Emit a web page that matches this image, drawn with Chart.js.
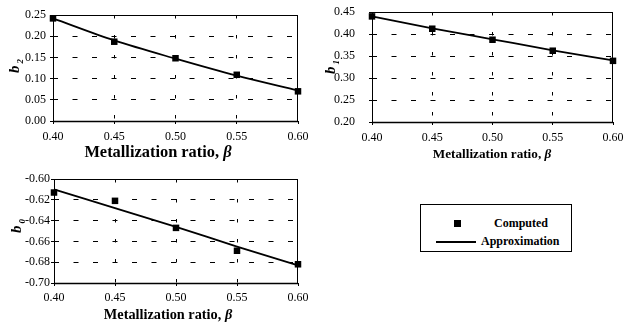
<!DOCTYPE html>
<html>
<head>
<meta charset="utf-8">
<script src="https://cdn.jsdelivr.net/npm/chart.js@4.4.1/dist/chart.umd.min.js"></script>
<style>
  body { margin: 0; background: #fff; }
  #wrap { position: relative; width: 631px; height: 326px; overflow: hidden; }
  canvas { position: absolute; }
  #legend {
    position: absolute; left: 420px; top: 204px; width: 152px; height: 48px;
    border: 1px solid #000; box-sizing: border-box;
    font: bold 12px "Liberation Serif", serif; color: #000;
  }
  #legend .sq { position: absolute; left: 33px; top: 15px; width: 7px; height: 7px; background: #000; }
  #legend .ln { position: absolute; left: 15px; top: 36px; width: 40px; height: 1.5px; background: #000; }
  #legend .t1 { position: absolute; left: 73px; top: 11px; }
  #legend .t2 { position: absolute; left: 60px; top: 29px; }
</style>
</head>
<body>
<div id="wrap">
  <canvas id="c_b2" width="320" height="170" style="left:0;top:0;width:320px;height:170px"></canvas>
  <canvas id="c_b1" width="311" height="170" style="left:320px;top:0;width:311px;height:170px"></canvas>
  <canvas id="c_b0" width="320" height="161" style="left:0;top:165px;width:320px;height:161px"></canvas>
  <div id="legend">
    <div class="sq"></div><span class="t1">Computed</span>
    <div class="ln"></div><span class="t2">Approximation</span>
  </div>
</div>
<script>
const beta = [0.40, 0.45, 0.50, 0.55, 0.60];

const b2Computed = [0.242, 0.187, 0.148, 0.109, 0.070];
const b2Approx   = [0.242, 0.190, 0.147, 0.107, 0.072];

const b1Computed = [0.440, 0.412, 0.387, 0.362, 0.339];
const b1Approx   = [0.440, 0.413, 0.388, 0.363, 0.340];

const b0Computed = [-0.613, -0.621, -0.647, -0.669, -0.682];
const b0Approx   = [-0.610, -0.628, -0.646, -0.665, -0.683];

const serif = '"Liberation Serif", "Times New Roman", serif';

function pts(ys) {
  return beta.map((x, i) => ({ x: x, y: ys[i] }));
}

// black frame round the plot area, y label with subscript, x title with italic beta
const frame = {
  id: 'frame',
  afterDraw(chart, args, opts) {
    const a = chart.chartArea, ctx = chart.ctx;
    ctx.save();
    ctx.strokeStyle = '#000';
    ctx.lineWidth = 1;
    ctx.strokeRect(a.left + 0.5, a.top + 0.5, a.right - a.left - 1, a.bottom - a.top);
    ctx.lineWidth = 1.5;
    ctx.beginPath();
    ctx.moveTo(a.left, a.bottom + 0.5);
    ctx.lineTo(a.right, a.bottom + 0.5);
    ctx.stroke();
    ctx.fillStyle = '#000';

    // x title
    ctx.textBaseline = 'middle';
    ctx.font = 'bold ' + opts.titleSize + 'px ' + serif;
    const t1 = 'Metallization ratio, ';
    const w1 = ctx.measureText(t1).width;
    ctx.font = 'italic bold ' + opts.titleSize + 'px ' + serif;
    const w2 = ctx.measureText('\u03b2').width;
    let x0 = opts.titleX - (w1 + w2) / 2;
    ctx.font = 'bold ' + opts.titleSize + 'px ' + serif;
    ctx.fillText(t1, x0, opts.titleY);
    ctx.font = 'italic bold ' + opts.titleSize + 'px ' + serif;
    ctx.fillText('\u03b2', x0 + w1, opts.titleY);

    // y label
    ctx.translate(opts.labelX, opts.labelY);
    ctx.rotate(-Math.PI / 2);
    ctx.textBaseline = 'alphabetic';
    ctx.font = 'italic bold 15px ' + serif;
    ctx.fillText('b', 0, 0);
    const w = ctx.measureText('b').width;
    ctx.font = 'italic bold 9px ' + serif;
    ctx.fillText(opts.sub, w + 2, 4);
    ctx.restore();
  }
};

function makeChart(id, comp, approx, yMin, yMax, step, o) {
  const edgeHidden = (ctx) => {
    const v = ctx.tick ? ctx.tick.value : null;
    return (Math.abs(v - yMin) < 1e-9 || Math.abs(v - yMax) < 1e-9) ? 'rgba(0,0,0,0)' : '#000';
  };
  const xEdgeHidden = (ctx) => {
    const v = ctx.tick ? ctx.tick.value : null;
    return (Math.abs(v - 0.4) < 1e-9 || Math.abs(v - 0.6) < 1e-9) ? 'rgba(0,0,0,0)' : '#000';
  };
  return new Chart(document.getElementById(id), {
    type: 'scatter',
    data: {
      datasets: [{
        label: 'Computed',
        data: pts(comp),
        showLine: false,
        clip: false,
        pointStyle: 'rect',
        pointRadius: 4.6,
        pointHoverRadius: 4.6,
        backgroundColor: '#000',
        borderColor: '#000',
        borderWidth: 0
      }, {
        label: 'Approximation',
        data: pts(approx),
        showLine: true,
        clip: false,
        pointRadius: 0,
        borderColor: '#000',
        borderWidth: 1.8,
        tension: 0.4,
        cubicInterpolationMode: 'monotone'
      }]
    },
    options: {
      responsive: false,
      animation: false,
      events: [],
      layout: { padding: { left: 0, top: o.top, right: o.right, bottom: 0 } },
      plugins: {
        legend: { display: false },
        tooltip: { enabled: false },
        frame: o
      },
      scales: {
        x: {
          type: 'linear',
          min: 0.4, max: 0.6,
          afterFit: (s) => { s.height = o.xH; },
          ticks: {
            stepSize: 0.05,
            padding: o.xPad,
            color: '#000',
            font: { family: serif, size: 12 },
            callback: (v) => v.toFixed(2)
          },
          grid: { color: xEdgeHidden, tickColor: '#000', drawTicks: true, tickLength: 3, lineWidth: 1 },
          border: { display: false, dash: [3.5, 16.5] },
          title: { display: false }
        },
        y: {
          min: yMin, max: yMax,
          afterFit: (s) => { s.width = o.yW; s.paddingTop = 8; s.paddingBottom = 8; },
          ticks: {
            stepSize: step,
            padding: o.yPad,
            color: '#000',
            font: { family: serif, size: 12 },
            callback: (v) => v.toFixed(2)
          },
          grid: { color: edgeHidden, tickColor: '#000', drawTicks: true, tickLength: 3, lineWidth: 1 },
          border: { display: false, dash: [5, 14.5] }
        }
      }
    },
    plugins: [frame]
  });
}

makeChart('c_b2', b2Computed, b2Approx, 0, 0.25, 0.05,
  { top: 15, right: 22, xH: 49, yW: 53, yPad: 4, xPad: 6,
    titleSize: 16.4, titleX: 158, titleY: 153, labelX: 19, labelY: 73, sub: '2' });
makeChart('c_b1', b1Computed, b1Approx, 0.2, 0.45, 0.05,
  { top: 12, right: 18, xH: 48, yW: 52, yPad: 14, xPad: 6,
    titleSize: 13.2, titleX: 172, titleY: 155, labelX: 15, labelY: 74, sub: '1' });
makeChart('c_b0', b0Computed, b0Approx, -0.7, -0.6, 0.02,
  { top: 14, right: 22, xH: 43, yW: 54, yPad: 1, xPad: 5,
    titleSize: 14.3, titleX: 168, titleY: 150, labelX: 21, labelY: 68, sub: '0' });
</script>
</body>
</html>
